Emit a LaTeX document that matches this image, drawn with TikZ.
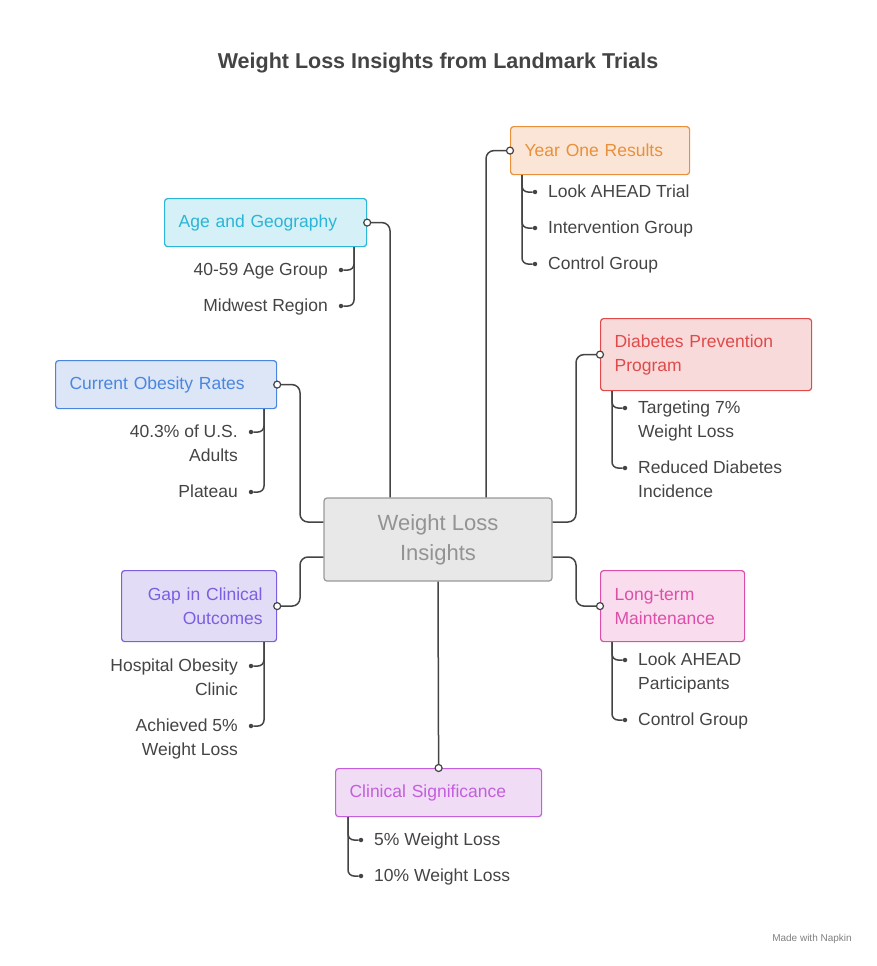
\documentclass[tikz,border=0pt]{standalone}
\usepackage{fontspec}
\setmainfont{Liberation Sans}
\usetikzlibrary{positioning}
\definecolor{ink}{HTML}{444444}
\definecolor{orgD}{HTML}{E8903A}\definecolor{orgL}{HTML}{FBE5D6}
\definecolor{cynD}{HTML}{2BB5D6}\definecolor{cynL}{HTML}{D5F0F7}
\definecolor{bluD}{HTML}{4A86E0}\definecolor{bluL}{HTML}{DCE6F7}
\definecolor{vioD}{HTML}{7B5FE0}\definecolor{vioL}{HTML}{E2DCF7}
\definecolor{purD}{HTML}{C35FDC}\definecolor{purL}{HTML}{F0DCF5}
\definecolor{redD}{HTML}{E04A4A}\definecolor{redL}{HTML}{F9DADA}
\definecolor{pnkD}{HTML}{DC4FA8}\definecolor{pnkL}{HTML}{FADCEF}
\tikzset{
  box/.style={draw=#1D, fill=#1L, text=#1D, rounded corners=3pt, line width=1.2pt,
    anchor=north west, inner xsep=14pt, inner ysep=0pt, font=\fontsize{17.5}{24}\selectfont},
  item/.style={text=ink, inner sep=0pt, font=\fontsize{17.5}{24}\selectfont},
  link/.style={draw=ink, line width=1.5pt, rounded corners=8pt},
  knob/.style={circle, draw=ink, fill=white, line width=1.2pt, inner sep=0pt, minimum size=7pt},
  dot/.style={circle, fill=ink, inner sep=0pt, minimum size=4.5pt},
}
\begin{document}
\begin{tikzpicture}[x=1pt,y=-1pt]
\useasboundingbox (0,0) rectangle (876,966);
\node[text=ink, font=\bfseries\fontsize{21.5}{26}\selectfont] (title) at (438,63) {Weight Loss Insights from Landmark Trials};
% centre
\node[draw=gray!80, fill=gray!18, text=gray!85, rounded corners=3pt, line width=1.2pt,
  minimum width=228pt, minimum height=83pt, align=center,
  font=\fontsize{22}{30}\selectfont] (ctr) at (438,539.5) {Weight Loss\\Insights};
% boxes
\node[box=org, text width=151pt, minimum height=48pt, align=left] (yor) at (510,126) {Year One Results};
\node[box=cyn, text width=174pt, minimum height=48pt, align=left] (age) at (164,198) {Age and Geography};
\node[box=blu, text width=193pt, minimum height=48pt, align=left] (cor) at (55,360) {Current Obesity Rates};
\node[box=vio, text width=127pt, minimum height=71pt, align=right] (gap) at (121,570) {Gap in Clinical\\Outcomes};
\node[box=pur, text width=178pt, minimum height=48pt, align=left] (sig) at (335,768) {Clinical Significance};
\node[box=red, text width=183pt, minimum height=72pt, align=left] (dpp) at (600,318) {Diabetes Prevention\\Program};
\node[box=pnk, text width=116pt, minimum height=71pt, align=left] (ltm) at (600,570) {Long-term\\Maintenance};
% links from centre
\draw[link] (ctr.north -| 486,0) |- (yor.west);
\draw[link] (ctr.north -| 390,0) |- (age.east);
\draw[link] (ctr.west |- 0,522) -| (300,450) |- (cor.east);
\draw[link] (ctr.west |- 0,557) -| (300,580) |- (gap.east);
\draw[link] (ctr.south -| 438,0) -- (sig.north);
\draw[link] (ctr.east |- 0,522) -| (576,400) |- (dpp.west);
\draw[link] (ctr.east |- 0,557) -| (576,580) |- (ltm.west);
\foreach \k/\a in {yor/west, age/east, cor/east, gap/east, sig/north, dpp/west, ltm/west}
  \node[knob] at (\k.\a) {};
% children right of trunk
\foreach \k/\tx/\y/\t in {yor/522/192/Look AHEAD Trial, yor/522/228/Intervention Group, yor/522/264/Control Group,
  sig/348/840/5\% Weight Loss, sig/348/876/10\% Weight Loss,
  dpp/612/408/Targeting 7\%\\Weight Loss, dpp/612/468/Reduced Diabetes\\Incidence,
  ltm/612/660/Look AHEAD\\Participants, ltm/612/720/Control Group}{
  \node[dot] (d) at (\tx+13,\y) {};
  \node[item, anchor=north west, align=left] at (\tx+26,\y-7) {\t};
  \draw[link, rounded corners=6pt] (\k.south -| \tx,0) |- (d);
}
% children left of trunk
\foreach \k/\tx/\y/\t in {age/354/270/40-59 Age Group, age/354/306/Midwest Region,
  cor/264/432/40.3\% of U.S.\\Adults, cor/264/492/Plateau,
  gap/264/666/Hospital Obesity\\Clinic, gap/264/726/Achieved 5\%\\Weight Loss}{
  \node[dot] (d) at (\tx-13,\y) {};
  \node[item, anchor=north east, align=right] at (\tx-26,\y-7) {\t};
  \draw[link, rounded corners=6pt] (\k.south -| \tx,0) |- (d);
}
\node[text=gray, font=\fontsize{10}{12}\selectfont] (napkin) at (812,939) {Made with Napkin};
\end{tikzpicture}
\end{document}
